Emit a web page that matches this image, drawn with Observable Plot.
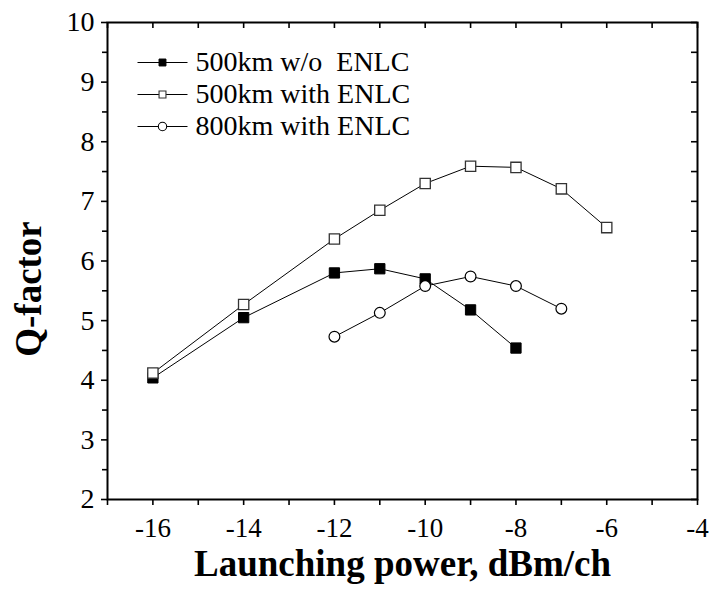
<!DOCTYPE html>
<html><head><meta charset="utf-8">
<script src="https://cdn.jsdelivr.net/npm/d3@7"></script>
<script src="https://cdn.jsdelivr.net/npm/@observablehq/plot@0.6"></script>
<style>
html,body{margin:0;padding:0;background:#fff;}
#chart svg text{white-space:pre;}
</style></head><body><div id="chart"></div>
<script>
// ---- data ----
const seriesNames = ["500km w/o  ENLC", "500km with ENLC", "800km with ENLC"];
const powerWithout500 = [-16, -14, -12, -11, -10, -9, -8];
const qWithout500     = [4.04, 5.05, 5.80, 5.87, 5.70, 5.18, 4.54];
const powerWith500    = [-16, -14, -12, -11, -10, -9, -8, -7, -6];
const qWith500        = [4.12, 5.27, 6.37, 6.85, 7.30, 7.59, 7.57, 7.21, 6.56];
const powerWith800    = [-12, -11, -10, -9, -8, -7];
const qWith800        = [4.73, 5.13, 5.58, 5.74, 5.58, 5.20];
const xTickLabels = [-16, -14, -12, -10, -8, -6, -4];
const yTickLabels = [2, 3, 4, 5, 6, 7, 8, 9, 10];
const xTitle = "Launching power, dBm/ch";
const yTitle = "Q-factor";

// ---- layout ----
const W = 712, H = 591;
const M = {left: 107, right: 15, top: 22, bottom: 92};
const xDomain = [-17, -4], yDomain = [2, 10];
const px2x = px => xDomain[0] + (px - M.left) / (W - M.left - M.right) * (xDomain[1] - xDomain[0]);
const py2y = py => yDomain[1] - (py - M.top) / (H - M.top - M.bottom) * (yDomain[1] - yDomain[0]);

const toRows = (xs, ys) => xs.map((x, i) => ({x, y: ys[i]}));
const d0 = toRows(powerWithout500, qWithout500);
const d1 = toRows(powerWith500, qWith500);
const d2 = toRows(powerWith800, qWith800);

const styles = [
  {symbol: "square", fill: "black", stroke: "black", strokeWidth: 1, r: 5.8},
  {symbol: "square", fill: "white", stroke: "#333", strokeWidth: 1.3, r: 5.8},
  {symbol: "circle", fill: "white", stroke: "black", strokeWidth: 1.2, r: 5.4}
];
const legendStyles = [
  {symbol: "square", fill: "black", stroke: "black", strokeWidth: 1, r: 3.9},
  {symbol: "square", fill: "white", stroke: "#333", strokeWidth: 1.1, r: 3.9},
  {symbol: "circle", fill: "white", stroke: "black", strokeWidth: 1.1, r: 4.2}
];
const legend = seriesNames.map((name, i) => ({
  name, i,
  y: py2y(62 + 32 * i),
  x1: px2x(137), x2: px2x(187), xm: px2x(162), xt: px2x(195)
}));

const xMinor = d3.range(-17, -3, 1).filter(v => !xTickLabels.includes(v));
const xAll = d3.range(-17, -3, 1);
const yMinor = d3.range(2.5, 10, 1);
const yAll = d3.range(2, 10.01, 0.5);

const marks = [
  // axes
  Plot.axisX({anchor: "bottom", ticks: xTickLabels, tickSize: 6, tickPadding: 12, strokeWidth: 1.6, tickFormat: d => String(d), label: null, fontSize: 27}),
  Plot.axisX({anchor: "bottom", ticks: xMinor, tickSize: 6, strokeWidth: 1.6, fill: "none", label: null}),
  Plot.axisX({anchor: "bottom", frameAnchor: "top", ticks: xAll, tickSize: 6, strokeWidth: 1.6, fill: "none", label: null}),
  Plot.axisY({anchor: "left", ticks: yTickLabels, tickSize: 6, tickPadding: 7, strokeWidth: 1.6, tickFormat: d => String(d), label: null, fontSize: 28}),
  Plot.axisY({anchor: "left", ticks: yMinor, tickSize: 5, strokeWidth: 1.6, fill: "none", label: null}),
  Plot.axisY({anchor: "left", frameAnchor: "right", ticks: yAll, tickSize: 6, strokeWidth: 1.6, fill: "none", label: null}),
  Plot.frame({stroke: "black", strokeWidth: 2}),
  // series
  Plot.line(d0, {x: "x", y: "y", stroke: "black", strokeWidth: 1}),
  Plot.line(d1, {x: "x", y: "y", stroke: "black", strokeWidth: 1}),
  Plot.line(d2, {x: "x", y: "y", stroke: "black", strokeWidth: 1}),
  Plot.dot(d0, {x: "x", y: "y", ...styles[0]}),
  Plot.dot(d1, {x: "x", y: "y", ...styles[1]}),
  Plot.dot(d2, {x: "x", y: "y", ...styles[2]}),
  // legend
  Plot.link(legend, {x1: "x1", x2: "x2", y1: "y", y2: "y", stroke: "black", strokeWidth: 1}),
  ...legend.map(l => Plot.dot([l], {x: "xm", y: "y", ...legendStyles[l.i]})),
  Plot.text(legend, {x: "xt", y: "y", text: "name", textAnchor: "start", lineAnchor: "middle", fontSize: 28}),
  // titles
  Plot.text([xTitle], {frameAnchor: "bottom", textAnchor: "middle", lineAnchor: "middle", dy: 64.5, text: d => d, fontSize: 37, fontWeight: "bold"}),
  Plot.text([yTitle], {frameAnchor: "left", textAnchor: "middle", lineAnchor: "middle", dx: -78.5, dy: 28, rotate: -90, text: d => d, fontSize: 37, fontWeight: "bold"})
];

const chart = Plot.plot({
  width: W, height: H,
  marginLeft: M.left, marginRight: M.right, marginTop: M.top, marginBottom: M.bottom,
  x: {domain: xDomain},
  y: {domain: yDomain},
  style: {fontFamily: "'Liberation Serif', 'Times New Roman', serif", fontSize: "28px", color: "black", background: "white", overflow: "visible"},
  marks
});
document.getElementById("chart").appendChild(chart);
</script>
</body></html>
